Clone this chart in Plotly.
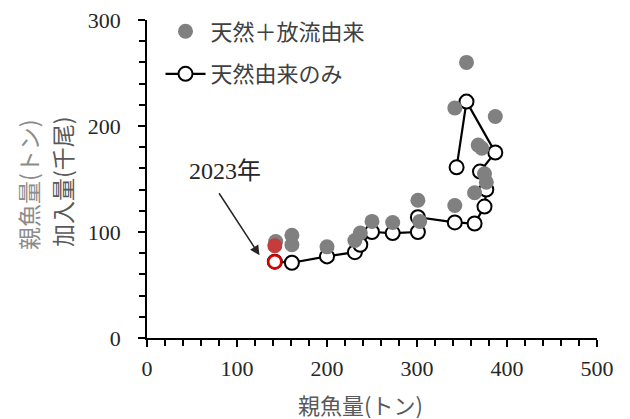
import plotly.graph_objects as go

# 天然+放流由来 (gray filled)
stock_all = [143, 161, 161, 200, 231, 237, 250, 273, 301, 303, 342, 342, 355, 364, 368, 372, 375, 377, 387]
recruit_all = [91, 97, 88, 86, 92, 99, 110, 109, 130, 110, 125, 217, 260, 137, 182, 179, 155, 147, 209]

# 天然由来のみ (open circles, line order)
stock_wild = [142, 161, 200, 231, 237, 250, 273, 301, 301, 342, 364, 375, 377, 370, 387, 355, 344]
recruit_wild = [72, 71, 77, 81, 88, 100, 99, 100, 114, 109, 108, 124, 140, 157, 175, 223, 161]

# 2023年
stock_2023 = [142]
recruit_all_2023 = [87]
recruit_wild_2023 = [72]

x_ticks = [0, 100, 200, 300, 400, 500]
y_ticks = [0, 100, 200, 300]

SERIF = "Liberation Serif, Times New Roman, Noto Sans CJK JP, serif"
JP = "Noto Sans CJK JP, Liberation Serif, serif"

fig = go.Figure()
fig.add_trace(go.Scatter(
    x=stock_wild, y=recruit_wild, mode="lines+markers", name="天然由来のみ",
    line=dict(color="black", width=2.2),
    marker=dict(size=14, color="white", line=dict(color="black", width=2)),
    legendrank=2, legendgroup="b"))
fig.add_trace(go.Scatter(
    x=stock_all, y=recruit_all, mode="markers", name="天然＋放流由来",
    marker=dict(size=15, color="#808080"), legendrank=1, legendgroup="a"))
fig.add_trace(go.Scatter(
    x=stock_2023, y=recruit_all_2023, mode="markers", showlegend=False,
    marker=dict(size=15, color="#c43c3c")))
fig.add_trace(go.Scatter(
    x=stock_2023, y=recruit_wild_2023, mode="markers", showlegend=False,
    marker=dict(size=13, color="white", line=dict(color="#e00000", width=2.5))))

axis_common = dict(
    showline=True, linecolor="black", linewidth=1.5, showgrid=False, zeroline=False,
    ticks="outside", ticklen=7, tickwidth=1.5, tickcolor="black",
    tickfont=dict(family=SERIF, size=22, color="#262626"),
    minor=dict(ticks="outside", ticklen=6, tickwidth=1.5, tickcolor="black", dtick=20),
    automargin=False,
)
fig.update_xaxes(range=[0, 500], tickvals=x_ticks, ticktext=[str(v) for v in x_ticks],
                 ticklabelstandoff=3, **axis_common)
fig.update_yaxes(range=[0, 300], tickvals=y_ticks, ticktext=[str(v) for v in y_ticks],
                 ticklabelstandoff=13, **axis_common)

fig.add_annotation(xref="paper", yref="paper", x=(28 - 147) / 450, y=(338 - 185) / 318,
                   xanchor="center", yanchor="middle",
                   text="親魚量(トン)", textangle=-90, showarrow=False,
                   font=dict(family=JP, size=23, color="#8c8c8c"))
fig.add_annotation(xref="paper", yref="paper", x=(62 - 147) / 450, y=(338 - 182) / 318,
                   xanchor="center", yanchor="middle",
                   text="加入量(千尾)", textangle=-90, showarrow=False,
                   font=dict(family=JP, size=23, color="#595959"))
fig.add_annotation(xref="paper", yref="paper", x=(360 - 147) / 450, y=(338 - 404) / 318,
                   xanchor="center", yanchor="middle",
                   text="親魚量(トン)", showarrow=False,
                   font=dict(family=JP, size=22, color="#595959"))

fig.add_annotation(x=87, y=158, text="2023年", showarrow=False,
                   font=dict(family=SERIF, size=24, color="#262626"))
fig.add_annotation(x=125, y=78, ax=79, ay=138, axref="x", ayref="y", text="",
                   showarrow=True, arrowhead=2, arrowsize=1.3, arrowwidth=1.5,
                   arrowcolor="#262626", standoff=0, startstandoff=0)

fig.update_layout(
    width=630, height=419, margin=dict(l=147, r=33, t=20, b=81, autoexpand=False),
    plot_bgcolor="white", paper_bgcolor="white",
    showlegend=True,
    legend=dict(x=0.03, y=1.03, xanchor="left", yanchor="top", bgcolor="rgba(0,0,0,0)",
                font=dict(family=JP, size=22, color="#404040"),
                traceorder="grouped", tracegroupgap=11, itemwidth=40),
)
fig.write_html("out.html", config={"displayModeBar": False},
               post_script="document.body.style.margin='0';")
